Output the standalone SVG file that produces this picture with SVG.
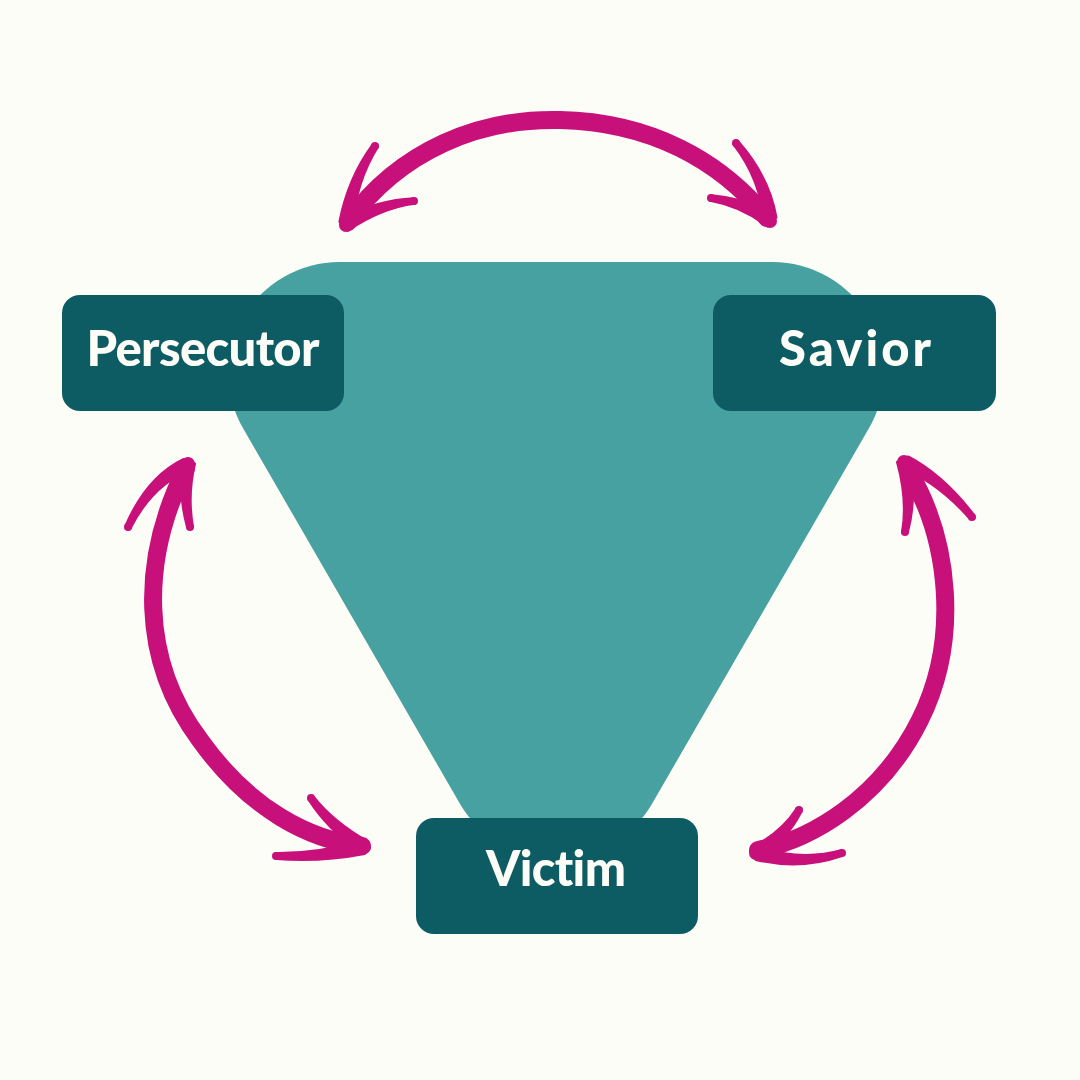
<svg xmlns="http://www.w3.org/2000/svg" width="1080" height="1080" viewBox="0 0 1080 1080">
<style>
.box{fill:#0E5C63}
.lbl{fill:#FDFDF7;font-family:Lato,"Liberation Sans",sans-serif;font-weight:900;font-size:49px;text-anchor:middle;font-variant-ligatures:none;font-feature-settings:"liga" 0}
.shaft{fill:none;stroke:#C8107B;stroke-width:18;stroke-linecap:round;stroke-linejoin:round}
.barb{fill:#C8107B;stroke:#C8107B;stroke-width:3;stroke-linejoin:round}
.end{fill:#C8107B}
</style>
<rect width="1080" height="1080" fill="#FDFDF7"/>
<path id="triangle" d="M340,262 L772,262 A111,111 0 0 1 868.5,429 L652.5,803 A111,111 0 0 1 459.5,803 L243.5,429 A111,111 0 0 1 340,262 Z" fill="#47A1A0"/>
<g id="connectors">
<g id="arrow-top">
<path class="shaft" d="M348,222 C400,150 480,118 560,120 C650,122 720,160 767,218"/>
<path class="barb" d="M352.09,226.27 Q355.75,181.39 377.34,146.87 L372.66,145.13 Q348.25,178.61 339.91,221.73 Z"/>
<path class="barb" d="M348.08,230.16 Q381.28,207.79 414.8,203.37 L413.2,198.63 Q378.72,200.21 343.92,217.84 Z"/>
<path class="barb" d="M775.94,217.38 Q768.66,176.38 738.29,141.99 L733.71,144.01 Q761.34,179.62 764.06,222.62 Z"/>
<path class="barb" d="M772.27,213.91 Q743.4,198.25 711.87,195.66 L710.13,200.34 Q740.6,205.75 767.73,226.09 Z"/>
<circle class="end" cx="375" cy="146" r="4"/><circle class="end" cx="414" cy="201" r="4"/>
<circle class="end" cx="736" cy="143" r="4"/><circle class="end" cx="711" cy="198" r="4"/>
<circle class="end" cx="346" cy="225" r="7"/><circle class="end" cx="770" cy="221" r="7"/>
</g>
<g id="arrow-left">
<path class="shaft" d="M186,468 C140,560 140,660 200,740 C250,810 310,840 362,846"/>
<path class="barb" d="M183.29,459.52 Q147.1,477.24 126.19,525.28 L129.81,528.72 Q152.9,482.76 192.71,468.48 Z"/>
<path class="barb" d="M181.5,464.21 Q179,495.13 187.5,527.08 L192.5,526.92 Q187,494.87 194.5,463.79 Z"/>
<path class="barb" d="M368.41,842.23 Q332.71,822.06 312.7,796.16 L309.3,799.84 Q327.29,827.94 359.59,851.77 Z"/>
<path class="barb" d="M363.34,840.53 Q319.59,854.02 275.75,853.51 L276.25,858.49 Q320.41,861.98 364.66,853.47 Z"/>
<circle class="end" cx="128" cy="527" r="4"/><circle class="end" cx="190" cy="527" r="4"/>
<circle class="end" cx="311" cy="798" r="4"/><circle class="end" cx="276" cy="856" r="4"/>
<circle class="end" cx="188" cy="464" r="7"/><circle class="end" cx="364" cy="847" r="7"/>
</g>
<g id="arrow-right">
<path class="shaft" d="M908,470 C950,540 960,640 920,720 C880,800 810,840 758,850"/>
<path class="barb" d="M899.91,467.05 Q937.48,481.11 970.43,518.94 L973.57,515.06 Q942.52,474.89 908.09,456.95 Z"/>
<path class="barb" d="M897.5,462.09 Q908,500.06 902.5,532.04 L907.5,531.96 Q916,499.94 910.5,461.91 Z"/>
<path class="barb" d="M760.6,857.6 Q787.83,837.83 800.77,811.77 L797.23,808.23 Q782.17,832.17 751.4,848.4 Z"/>
<path class="barb" d="M756,859.5 Q800,870 842,855.5 L842,850.5 Q800,862 756,846.5 Z"/>
<circle class="end" cx="972" cy="517" r="4"/><circle class="end" cx="905" cy="532" r="4"/>
<circle class="end" cx="799" cy="810" r="4"/><circle class="end" cx="842" cy="853" r="4"/>
<circle class="end" cx="904" cy="462" r="7"/><circle class="end" cx="756" cy="853" r="7"/>
</g>
</g>
<g id="persecutor">
<rect class="box" x="62" y="295" width="282" height="116" rx="18"/>
<text class="lbl" x="203" y="366" textLength="233" lengthAdjust="spacing">Persecutor</text>
</g>
<g id="savior">
<rect class="box" x="713" y="295" width="283" height="116" rx="18"/>
<text class="lbl" x="855" y="366" textLength="152" lengthAdjust="spacing">Savior</text>
</g>
<g id="victim">
<rect class="box" x="416" y="818" width="282" height="116" rx="18"/>
<text class="lbl" x="556" y="886" textLength="140" lengthAdjust="spacing">Victim</text>
</g>
</svg>
